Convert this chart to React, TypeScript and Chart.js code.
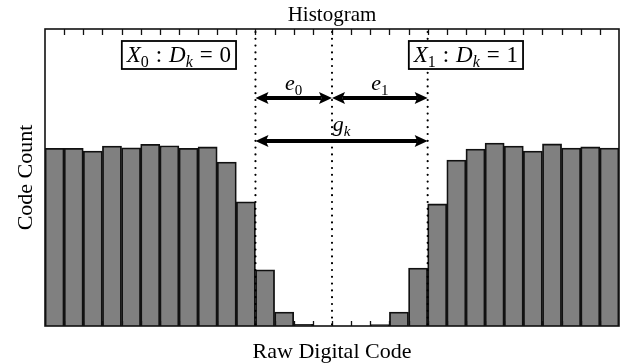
import { useEffect, useRef } from 'react';
import { Chart, registerables } from 'chart.js';

Chart.register(...registerables);

// Histogram bins (raw digital codes) and their counts
const rawCodes = [
  '0', '1', '2', '3', '4', '5', '6', '7', '8', '9',
  '10', '11', '12', '13', '14', '15', '16', '17', '18', '19',
  '20', '21', '22', '23', '24', '25', '26', '27', '28', '29',
];
const codeCounts = [
  598, 598, 589, 606, 600, 612, 607, 598, 603, 552,
  418, 189, 47, 6, 0, 0, 0, 5, 47, 195,
  411, 559, 596, 616, 606, 589, 613, 599, 603, 599,
];
const countMax = 1000;

// Bin edges (in code-index units) bounding the two error regions
const decisionEdges = [10.5, 14.5, 19.5];

// pad: extra space (in em) on both sides of a relation symbol
type Seg = { text: string; italic?: boolean; sub?: boolean; pad?: number };

// Region boxes: centre (code-index units) and the math text drawn in them
const regionCentres = [6.5, 21.5];
const regionTexts: Seg[][] = [
  [{ text: 'X', italic: true }, { text: '0', sub: true }, { text: ':', pad: 0.3 }, { text: 'D', italic: true }, { text: 'k', italic: true, sub: true }, { text: '=', pad: 0.3 }, { text: '0' }],
  [{ text: 'X', italic: true }, { text: '1', sub: true }, { text: ':', pad: 0.3 }, { text: 'D', italic: true }, { text: 'k', italic: true, sub: true }, { text: '=', pad: 0.3 }, { text: '1' }],
];
const e0Label: Seg[] = [{ text: 'e', italic: true }, { text: '0', sub: true }];
const e1Label: Seg[] = [{ text: 'e', italic: true }, { text: '1', sub: true }];
const gkLabel: Seg[] = [{ text: 'g', italic: true }, { text: 'k', italic: true, sub: true }];

const chartTitle = 'Histogram';
const xTitle = 'Raw Digital Code';
const yTitle = 'Code Count';

const SERIF = '"Liberation Serif", "DejaVu Serif", serif';

function fontFor(s: Seg, size: number) {
  const sz = s.sub ? Math.round(size * 0.7) : size;
  return `${s.italic ? 'italic ' : ''}${sz}px ${SERIF}`;
}

function segWidth(ctx: CanvasRenderingContext2D, s: Seg, size: number) {
  ctx.font = fontFor(s, size);
  return ctx.measureText(s.text).width + 2 * (s.pad ?? 0) * size;
}

function measureRich(ctx: CanvasRenderingContext2D, segs: Seg[], size: number) {
  let total = 0;
  for (const s of segs) total += segWidth(ctx, s, size);
  return total;
}

function drawRich(ctx: CanvasRenderingContext2D, segs: Seg[], cx: number, baseline: number, size: number) {
  const total = measureRich(ctx, segs, size);
  ctx.textAlign = 'left';
  ctx.textBaseline = 'alphabetic';
  let x = cx - total / 2;
  for (const s of segs) {
    const w = segWidth(ctx, s, size);
    ctx.font = fontFor(s, size);
    ctx.fillText(s.text, x + (s.pad ?? 0) * size, s.sub ? baseline + size * 0.22 : baseline);
    x += w;
  }
  return total;
}

function arrowHead(ctx: CanvasRenderingContext2D, tipX: number, y: number, dir: number, len: number, half: number) {
  ctx.beginPath();
  ctx.moveTo(tipX, y);
  ctx.lineTo(tipX - dir * len, y - half);
  ctx.lineTo(tipX - dir * len * 0.8, y);
  ctx.lineTo(tipX - dir * len, y + half);
  ctx.closePath();
  ctx.fill();
}

function doubleArrow(ctx: CanvasRenderingContext2D, x1: number, x2: number, y: number) {
  const len = 13;
  const half = 6;
  ctx.save();
  ctx.strokeStyle = '#000';
  ctx.fillStyle = '#000';
  ctx.lineWidth = 4.2;
  ctx.beginPath();
  ctx.moveTo(x1 + len * 0.8, y);
  ctx.lineTo(x2 - len * 0.8, y);
  ctx.stroke();
  arrowHead(ctx, x1, y, -1, len, half);
  arrowHead(ctx, x2, y, 1, len, half);
  ctx.restore();
}

const decorations = {
  id: 'histDecorations',
  afterDraw(chart: Chart) {
    const ctx = chart.ctx;
    const area = chart.chartArea;
    const xs = chart.scales.x;
    const { left, right, top, bottom } = area;
    const cy = (top + bottom) / 2;
    const cx = (left + right) / 2;

    ctx.save();

    // inward tick marks at every bin edge, top and bottom
    ctx.strokeStyle = '#111';
    ctx.lineWidth = 1.3;
    for (let i = 0; i < rawCodes.length - 1; i++) {
      const px = Math.round(xs.getPixelForValue(i + 0.5)) + 0.5;
      ctx.beginPath();
      ctx.moveTo(px, top);
      ctx.lineTo(px, top + 6);
      ctx.moveTo(px, bottom);
      ctx.lineTo(px, bottom - 5);
      ctx.stroke();
    }

    // frame
    ctx.lineWidth = 1.6;
    ctx.strokeStyle = '#111';
    ctx.strokeRect(left, top, right - left, bottom - top);

    // dotted region boundaries
    ctx.save();
    ctx.strokeStyle = '#000';
    ctx.lineWidth = 2.2;
    ctx.lineCap = 'round';
    ctx.setLineDash([0, 6.8]);
    for (const e of decisionEdges) {
      const px = xs.getPixelForValue(e);
      ctx.beginPath();
      ctx.moveTo(px, top + 3);
      ctx.lineTo(px, bottom);
      ctx.stroke();
    }
    ctx.restore();

    const [eL, eC, eR] = decisionEdges.map((e) => xs.getPixelForValue(e));
    ctx.fillStyle = '#000';

    // e0 / e1 arrows and g_k arrow
    const yE = top + 69;
    const yG = top + 112;
    doubleArrow(ctx, eL, eC, yE);
    doubleArrow(ctx, eC, eR, yE);
    doubleArrow(ctx, eL, eR, yG);
    drawRich(ctx, e0Label, (eL + eC) / 2, yE - 8, 22);
    drawRich(ctx, e1Label, (eC + eR) / 2, yE - 8, 22);
    drawRich(ctx, gkLabel, (eL + eR) / 2, yG - 10, 22);

    // region boxes
    regionTexts.forEach((segs, i) => {
      const bx = xs.getPixelForValue(regionCentres[i]);
      const w = measureRich(ctx, segs, 23);
      const bw = w + 10;
      const bh = 28;
      const by = top + 12;
      ctx.fillStyle = '#fff';
      ctx.fillRect(bx - bw / 2, by, bw, bh);
      ctx.strokeStyle = '#000';
      ctx.lineWidth = 1.8;
      ctx.strokeRect(bx - bw / 2, by, bw, bh);
      ctx.fillStyle = '#000';
      drawRich(ctx, segs, bx, by + 21, 23);
    });

    // titles
    ctx.fillStyle = '#000';
    ctx.font = `21px ${SERIF}`;
    ctx.textAlign = 'center';
    ctx.textBaseline = 'alphabetic';
    ctx.fillText(chartTitle, cx, top - 8);
    ctx.font = `22px ${SERIF}`;
    ctx.fillText(xTitle, cx, bottom + 32);
    ctx.save();
    ctx.translate(left - 13, cy);
    ctx.rotate(-Math.PI / 2);
    ctx.fillText(yTitle, 0, 0);
    ctx.restore();

    ctx.restore();
  },
};

export default function App() {
  const canvasRef = useRef<HTMLCanvasElement | null>(null);

  useEffect(() => {
    document.body.style.margin = '0';
    const canvas = canvasRef.current;
    if (!canvas) return;
    const chart = new Chart(canvas, {
      type: 'bar',
      data: {
        labels: rawCodes,
        datasets: [
          {
            data: codeCounts,
            backgroundColor: '#808080',
            borderColor: '#111',
            borderWidth: 1.8,
            barPercentage: 1,
            categoryPercentage: 1,
          },
        ],
      },
      options: {
        responsive: false,
        animation: false,
        layout: { padding: { left: 45, right: 5, top: 29, bottom: 38 } },
        plugins: {
          legend: { display: false },
          tooltip: { enabled: false },
          title: { display: false },
        },
        scales: {
          x: { display: false, offset: true },
          y: { display: false, min: 0, max: countMax },
        },
      },
      plugins: [decorations],
    });
    return () => chart.destroy();
  }, []);

  return (
    <div style={{ width: 624, height: 364, background: '#fff' }}>
      <canvas ref={canvasRef} width={624} height={364} style={{ display: 'block' }} />
    </div>
  );
}
